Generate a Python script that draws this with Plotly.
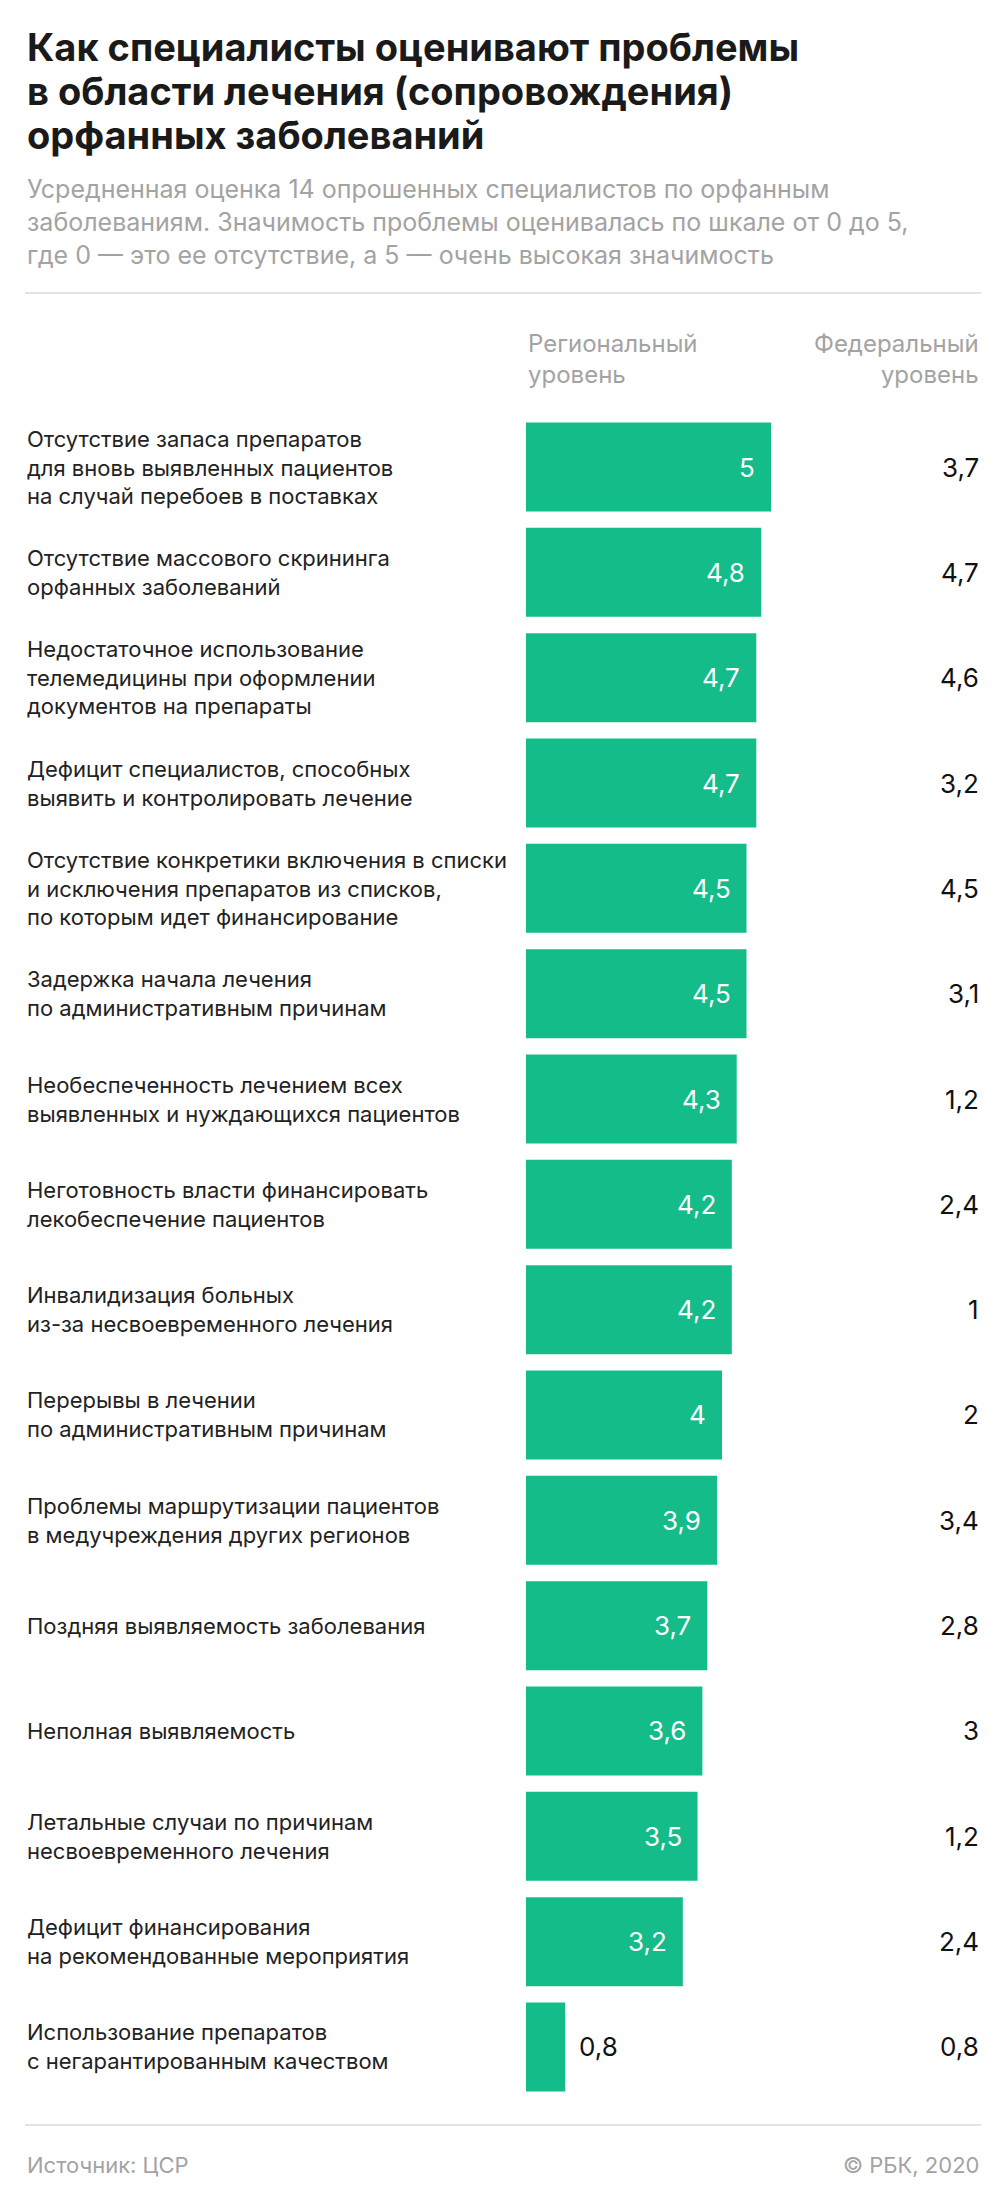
import plotly.graph_objects as go

# проблемы (сверху вниз)
problems = [
    "Отсутствие запаса препаратов<br>для вновь выявленных пациентов<br>на случай перебоев в поставках",
    "Отсутствие массового скрининга<br>орфанных заболеваний",
    "Недостаточное использование<br>телемедицины при оформлении<br>документов на препараты",
    "Дефицит специалистов, способных<br>выявить и контролировать лечение",
    "Отсутствие конкретики включения в списки<br>и исключения препаратов из списков,<br>по которым идет финансирование",
    "Задержка начала лечения<br>по административным причинам",
    "Необеспеченность лечением всех<br>выявленных и нуждающихся пациентов",
    "Неготовность власти финансировать<br>лекобеспечение пациентов",
    "Инвалидизация больных<br>из-за несвоевременного лечения",
    "Перерывы в лечении<br>по административным причинам",
    "Проблемы маршрутизации пациентов<br>в медучреждения других регионов",
    "Поздняя выявляемость заболевания",
    "Неполная выявляемость",
    "Летальные случаи по причинам<br>несвоевременного лечения",
    "Дефицит финансирования<br>на рекомендованные мероприятия",
    "Использование препаратов<br>с негарантированным качеством",
]
regional = [5, 4.8, 4.7, 4.7, 4.5, 4.5, 4.3, 4.2, 4.2, 4, 3.9, 3.7, 3.6, 3.5, 3.2, 0.8]
federal = [3.7, 4.7, 4.6, 3.2, 4.5, 3.1, 1.2, 2.4, 1, 2, 3.4, 2.8, 3, 1.2, 2.4, 0.8]

title_lines = ["Как специалисты оценивают проблемы",
               "в области лечения (сопровождения)",
               "орфанных заболеваний"]
subtitle_lines = ["Усредненная оценка 14 опрошенных специалистов по орфанным",
                  "заболеваниям. Значимость проблемы оценивалась по шкале от 0 до 5,",
                  "где 0 — это ее отсутствие, а 5 — очень высокая значимость"]

# страница имеет отступ body 8px, поэтому фигура чуть меньше окна
OFF = 8
W, H = 1005 - OFF, 2206 - OFF
FONT = "Inter, Roboto, sans-serif"
GREEN = "#13bc88"
GRAY = "#a3a3a3"


def px(x):
    return (x - OFF) / W


def py(y):
    return 1 - (y - OFF) / H


def fmt(v):
    return f"{v:g}".replace(".", ",")


fig = go.Figure()
fig.add_trace(go.Bar(
    x=regional, y=problems, orientation="h",
    marker=dict(color=GREEN, line=dict(width=0)),
    hoverinfo="skip",
))

ann = []
for i, t in enumerate(title_lines):
    ann.append(dict(text=t, x=px(25), y=py(47 + i * 44), xref="paper", yref="paper",
                    xanchor="left", yanchor="middle", showarrow=False,
                    font=dict(family=FONT, size=38, color="#1a1a1a", weight="bold")))
for i, t in enumerate(subtitle_lines):
    ann.append(dict(text=t, x=px(25), y=py(189 + i * 33), xref="paper", yref="paper",
                    xanchor="left", yanchor="middle", showarrow=False,
                    font=dict(family=FONT, size=25, color=GRAY)))

# заголовки колонок
ann.append(dict(text="Региональный<br>уровень", x=px(526), y=py(359), xref="paper", yref="paper",
                xanchor="left", yanchor="middle", align="left", showarrow=False,
                font=dict(family=FONT, size=24, color=GRAY)))
ann.append(dict(text="Федеральный<br>уровень", x=px(981), y=py(359), xref="paper", yref="paper",
                xanchor="right", yanchor="middle", align="right", showarrow=False,
                font=dict(family=FONT, size=24, color=GRAY)))

for p, r, f in zip(problems, regional, federal):
    ann.append(dict(text=p, x=px(25), y=p, xref="paper", yref="y",
                    xanchor="left", yanchor="middle", align="left", showarrow=False,
                    font=dict(family=FONT, size=22, color="#222222")))
    if r >= 1:
        ann.append(dict(text=fmt(r), x=r, y=p, xref="x", yref="y", xanchor="right",
                        xshift=-14, showarrow=False,
                        font=dict(family=FONT, size=26, color="white")))
    else:
        ann.append(dict(text=fmt(r), x=r, y=p, xref="x", yref="y", xanchor="left",
                        xshift=12, showarrow=False,
                        font=dict(family=FONT, size=26, color="#111111")))
    ann.append(dict(text=fmt(f), x=px(981), y=p, xref="paper", yref="y",
                    xanchor="right", showarrow=False,
                    font=dict(family=FONT, size=26, color="#111111")))

ann.append(dict(text="Источник: ЦСР", x=px(25), y=py(2165), xref="paper", yref="paper",
                xanchor="left", yanchor="middle", showarrow=False,
                font=dict(family=FONT, size=22, color=GRAY)))
ann.append(dict(text="© РБК, 2020", x=px(981), y=py(2165), xref="paper", yref="paper",
                xanchor="right", yanchor="middle", showarrow=False,
                font=dict(family=FONT, size=22, color=GRAY)))

shapes = [
    dict(type="line", xref="paper", yref="paper", x0=px(25), x1=px(981), y0=py(293), y1=py(293),
         line=dict(color="#e3e3e3", width=2)),
    dict(type="line", xref="paper", yref="paper", x0=px(25), x1=px(981), y0=py(2125), y1=py(2125),
         line=dict(color="#e3e3e3", width=2)),
]

band = 105.33
top = 467 - band / 2
bottom = 2047 + band / 2

fig.update_layout(
    width=W, height=H,
    margin=dict(l=0, r=0, t=0, b=0),
    paper_bgcolor="white", plot_bgcolor="white",
    showlegend=False,
    bargap=0.155,
    annotations=ann,
    shapes=shapes,
    xaxis=dict(domain=[px(526), px(771)], range=[0, 5], visible=False, fixedrange=True),
    yaxis=dict(domain=[py(bottom), py(top)], categoryorder="array", categoryarray=problems,
               range=[len(problems) - 0.5, -0.5], visible=False, fixedrange=True),
)

fig.write_html("out.html", config={"displayModeBar": False})
